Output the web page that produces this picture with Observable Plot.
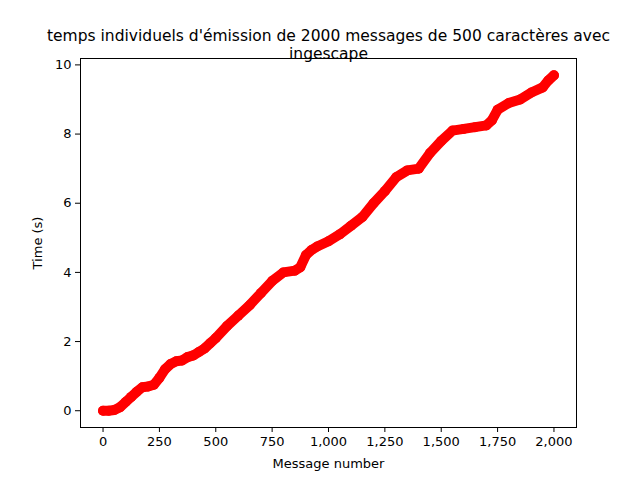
<!DOCTYPE html>
<html><head><meta charset="utf-8">
<script src="https://cdn.jsdelivr.net/npm/d3@7"></script>
<script src="https://cdn.jsdelivr.net/npm/@observablehq/plot@0.6"></script>
<style>body{margin:0;background:#fff}</style>
</head><body><div id="c"></div>
<script>
const messageNumber = [0,25,50,75,100,125,150,175,200,225,250,275,300,325,350,375,400,425,450,475,500,550,600,650,700,750,800,850,875,900,925,950,1000,1050,1100,1150,1200,1250,1300,1350,1400,1450,1500,1550,1600,1650,1700,1725,1750,1800,1850,1900,1950,1975,2000];
const timeS = [0,0,0.02,0.1,0.25,0.4,0.55,0.68,0.7,0.75,0.95,1.2,1.35,1.43,1.45,1.55,1.6,1.7,1.8,1.95,2.1,2.45,2.75,3.05,3.4,3.75,4.0,4.05,4.15,4.5,4.65,4.75,4.9,5.1,5.35,5.6,6.0,6.35,6.75,6.95,7.0,7.45,7.8,8.1,8.15,8.2,8.25,8.4,8.7,8.9,9.0,9.2,9.35,9.55,9.7];
const xTicks = [0,250,500,750,1000,1250,1500,1750,2000];
const yTicks = [0,2,4,6,8,10];
const data = messageNumber.map((m,i)=>({m, t: timeS[i]}));
const chart = Plot.plot({
  width:640, height:480,
  marginLeft:80, marginRight:64, marginTop:58, marginBottom:53,
  style:{fontFamily:"DejaVu Sans", fontSize:"13px", color:"#000"},
  x:{domain:[-100,2100], ticks:xTicks, tickSize:5, label:"Message number", labelAnchor:"center", labelArrow:"none", labelOffset:40},
  y:{domain:[-0.485,10.185], ticks:yTicks, tickSize:5, label:"Time (s)", labelAnchor:"center", labelArrow:"none", labelOffset:48},
  marks:[
    Plot.line(data,{x:"m", y:"t", stroke:"red", strokeWidth:10, strokeLinecap:"round", strokeLinejoin:"round"}),
    Plot.dot(data,{x:"m", y:"t", r:5, fill:"red"}),
    Plot.frame({stroke:"black"}),
    Plot.text(["temps individuels d'émission de 2000 messages de 500 caractères avec\ningescape"],{frameAnchor:"top", dy:-30, fontSize:15.5, lineHeight:1.15, fill:"black"})
  ]
});
document.getElementById("c").appendChild(chart);
</script></body></html>
